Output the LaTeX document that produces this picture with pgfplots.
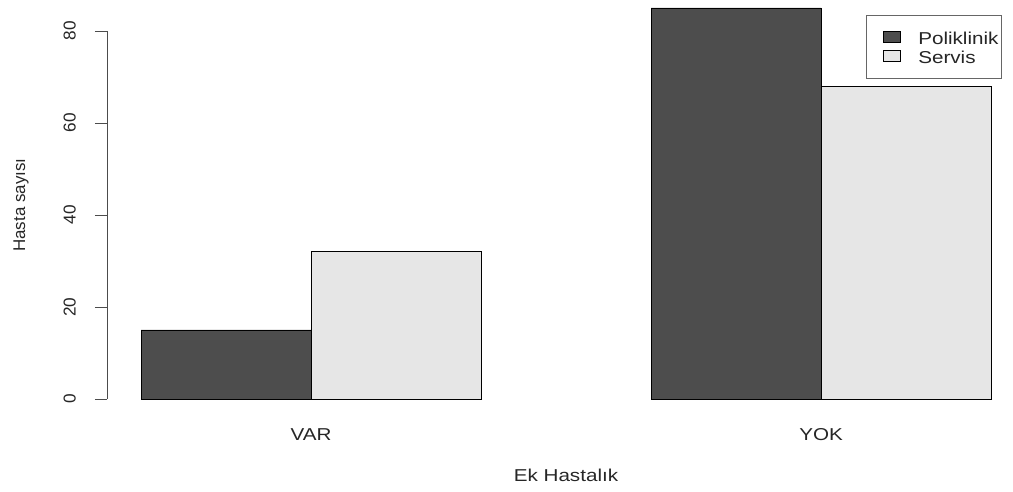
\documentclass[border=0pt]{standalone}
\usepackage{pgfplots}
\pgfplotsset{compat=1.18}
\usepackage{fontspec}
\setmainfont{Liberation Sans}[FakeStretch=1.2]
\newfontfamily\vfont{Liberation Sans}
\definecolor{darkbar}{HTML}{4D4D4D}
\definecolor{lightbar}{HTML}{E6E6E6}
\pgfplotsset{mylegend/.style={legend image code/.code={%
  \path[draw=none,fill=none] (-10.5pt,0pt) rectangle (12.75pt,0pt);
  \draw[#1, line width=0.6pt, draw=black] (0pt,-4pt) rectangle (12.75pt,4.2pt);}}}
\begin{document}
\begin{tikzpicture}
\useasboundingbox (0,0) rectangle (759.75pt,369pt);
\begin{axis}[
 at={(80.25pt,69.75pt)}, anchor=south west,
 scale only axis, width=679.5pt, height=299.25pt,
 xmin=0.8, xmax=6.129, ymin=0, ymax=86.74,
 axis lines*=left, axis line style={draw=none},
 clip=false,
 /pgf/number format/assume math mode=true,
 xtick={2,5}, xticklabels={VAR,YOK},
 xtick style={draw=none},
 ytick={0,20,40,60,80},
 tick align=outside, major tick length=9pt,
 ytick style={black!70, line width=0.6pt},
 xticklabel style={font=\fontsize{12.9}{15}\selectfont, text=black!85, anchor=base, yshift=-21.75pt},
 yticklabel style={font=\vfont\fontsize{12.9}{15}\selectfont, text=black!85, xshift=-14.5pt, rotate=90, anchor=base},
 xlabel={Ek Hastalık},
 xlabel style={at={(axis description cs:0.5066,0)}, anchor=base, yshift=-61.5pt, font=\fontsize{12.9}{15}\selectfont, text=black!85},
 ylabel={Hasta sayısı},
 ylabel style={at={(axis description cs:-0.0905,0.486)}, anchor=base, font=\vfont\fontsize{12.7}{15}\selectfont, text=black!85},
 legend style={at={(axis cs:5.265,83.48)}, anchor=north west, draw=black!60, line width=0.6pt,
   inner xsep=2.25pt, inner ysep=8pt, row sep=-2.75pt, column sep=13pt,
   nodes={inner sep=0pt, text height=14pt, text depth=3pt, font=\fontsize{12.9}{15}\selectfont, text=black!85},
   cells={anchor=west}},
]
\addplot[ybar, bar width=1, bar shift=0pt, fill=darkbar, draw=black, line width=0.6pt, mylegend] coordinates {(1.5,15) (4.5,85)};
\addlegendentry{Poliklinik}
\addplot[ybar, bar width=1, bar shift=0pt, fill=lightbar, draw=black, line width=0.6pt, mylegend] coordinates {(2.5,32) (5.5,68)};
\addlegendentry{Servis}
\draw[black!70, line width=0.6pt] (axis cs:0.8,0) -- (axis cs:0.8,80);
\end{axis}
\end{tikzpicture}
\end{document}
